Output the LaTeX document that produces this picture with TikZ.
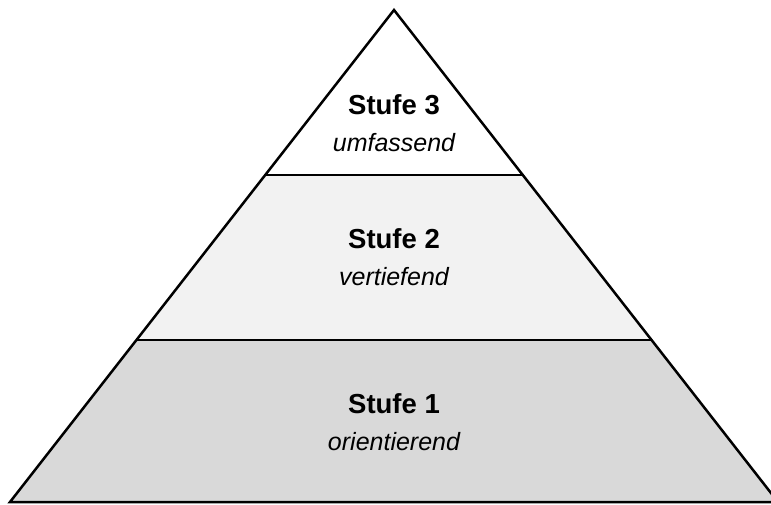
\documentclass[tikz,border=0pt]{standalone}
\usepackage{fontspec}
\setmainfont{Liberation Sans}
\usetikzlibrary{positioning}

\tikzset{
  stufe/.style={font=\fontsize{27.5}{32}\selectfont\bfseries, inner sep=0pt, anchor=base},
  modus/.style={font=\fontsize{25}{30}\selectfont\itshape, inner sep=0pt, anchor=base},
  kante/.style={line width=2.5pt, black}
}

\begin{document}
\begin{tikzpicture}[x=1pt,y=-1pt]
\useasboundingbox (0,0) rectangle (771,504);
\begin{scope}
\clip (0,0) rectangle (771,504);
% Stufen
\fill[black!15] (10,502) -- (137,340) -- (651,340) -- (778,502) -- cycle;
\fill[black!5] (137,340) -- (265.5,175) -- (522.5,175) -- (651,340) -- cycle;
\draw[kante] (265.5,175) -- (522.5,175);
\draw[kante] (137,340) -- (651,340);
\draw[kante, line join=miter] (10,502) -- (394,10) -- (778,502) -- cycle;
\end{scope}
% Beschriftung
\node[stufe] (s3) at (394,114) {Stufe 3};
\node[modus] (m3) at (394,151) {umfassend};
\node[stufe] (s2) at (394,248) {Stufe 2};
\node[modus] (m2) at (394,285) {vertiefend};
\node[stufe] (s1) at (394,413) {Stufe 1};
\node[modus] (m1) at (394,450) {orientierend};
\end{tikzpicture}
\end{document}
